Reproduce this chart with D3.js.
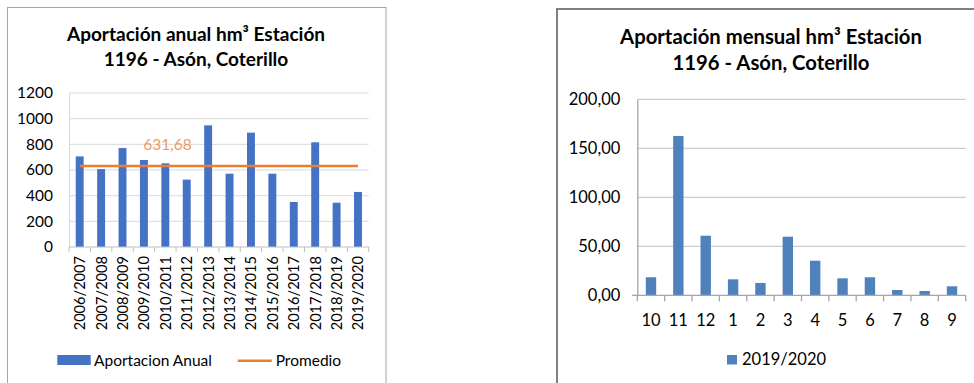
<!DOCTYPE html>
<html>
<head>
<meta charset="utf-8">
<script src="https://cdn.jsdelivr.net/npm/d3@7"></script>
<style>
  html, body { margin: 0; padding: 0; background: #fff; }
  svg { display: block; font-family: Lato, "Open Sans", sans-serif; }
</style>
</head>
<body>
<svg id="chart" width="974" height="383"></svg>
<script>
// Annual inflow per hydrological year (hm³)
const years = ["2006/2007","2007/2008","2008/2009","2009/2010","2010/2011","2011/2012","2012/2013",
               "2013/2014","2014/2015","2015/2016","2016/2017","2017/2018","2018/2019","2019/2020"];
const annualValues = [706, 607, 771, 678, 652, 525, 948, 571, 891, 571, 351, 816, 345, 429];
const annualMean = 631.68;
const annualTicks = [0, 200, 400, 600, 800, 1000, 1200];

// Monthly inflow for 2019/2020 (hm³), October to September
const months = ["10","11","12","1","2","3","4","5","6","7","8","9"];
const monthlyValues = [18.4, 162.6, 60.8, 16.3, 12.6, 59.8, 35.3, 17.3, 18.4, 5.4, 4.4, 9.2];
const monthlyTicks = [0, 50, 100, 150, 200];

const svg = d3.select("#chart");
const commaFmt = (d, digits) => d.toFixed(digits).replace(".", ",");

// ---------- Left panel: annual inflow ----------
(function () {
  const g = svg.append("g");
  g.append("rect").attr("x", 7.5).attr("y", 7.5).attr("width", 378.5).attr("height", 400)
    .attr("fill", "#fff").attr("stroke", "#A6A6A6").attr("stroke-width", 1);

  const title = g.append("text").attr("text-anchor", "middle")
    .attr("font-weight", "bold").attr("font-size", 19).attr("fill", "#000");
  title.append("tspan").attr("x", 196).attr("y", 40.5).text("Aportación anual hm³ Estación");
  title.append("tspan").attr("x", 196).attr("y", 66).text("1196 - Asón, Coterillo");

  const x = d3.scaleBand().domain(years).range([69, 368.7]).paddingInner(0.63).paddingOuter(0.315);
  const y = d3.scaleLinear().domain([0, 1200]).range([247, 93]);

  // horizontal gridlines
  g.append("g").selectAll("line").data(annualTicks.filter(d => d > 0)).join("line")
    .attr("x1", 69).attr("x2", 368.7).attr("y1", d => y(d)).attr("y2", d => y(d))
    .attr("stroke", "#D9D9D9").attr("stroke-width", 1);

  // y axis
  const yAxis = g.append("g").attr("transform", "translate(69,0)")
    .call(d3.axisLeft(y).tickValues(annualTicks).tickSize(0).tickPadding(16).tickFormat(d3.format("d")));
  yAxis.select(".domain").attr("stroke", "#D9D9D9");
  yAxis.selectAll("text").attr("font-size", 15.5).attr("fill", "#000").attr("font-family", "Lato");

  // bars
  g.append("g").selectAll("rect").data(years).join("rect")
    .attr("x", d => x(d)).attr("width", x.bandwidth())
    .attr("y", (d, i) => y(annualValues[i]))
    .attr("height", (d, i) => y(0) - y(annualValues[i]))
    .attr("fill", "#4472C4");

  // x axis with ticks between categories
  const step = x.step();
  const bounds = d3.range(years.length + 1).map(i => 69 + i * step);
  g.append("line").attr("x1", 69).attr("x2", 368.7).attr("y1", y(0)).attr("y2", y(0))
    .attr("stroke", "#BFBFBF").attr("stroke-width", 1);
  g.append("g").selectAll("line").data(bounds).join("line")
    .attr("x1", d => d).attr("x2", d => d).attr("y1", y(0)).attr("y2", y(0) + 5)
    .attr("stroke", "#BFBFBF");
  g.append("g").selectAll("text").data(years).join("text")
    .attr("transform", d => `translate(${x(d) + x.bandwidth() / 2 + 5.5},256) rotate(-90)`)
    .attr("text-anchor", "end").attr("font-size", 14.6).attr("fill", "#000")
    .text(d => d);

  // mean line and label
  const cx0 = x(years[0]) + x.bandwidth() / 2;
  const cx1 = x(years[years.length - 1]) + x.bandwidth() / 2;
  g.append("line").attr("x1", cx0).attr("x2", cx1).attr("y1", y(annualMean)).attr("y2", y(annualMean))
    .attr("stroke", "#ED7D31").attr("stroke-width", 2.5);
  g.append("text").attr("x", 167.5).attr("y", 149.5).attr("text-anchor", "middle")
    .attr("font-size", 15.5).attr("fill", "#F19A5E").text(commaFmt(annualMean, 2));

  // legend
  g.append("rect").attr("x", 57.3).attr("y", 355).attr("width", 33.4).attr("height", 10).attr("fill", "#4472C4");
  g.append("text").attr("x", 94).attr("y", 365.5).attr("font-size", 15.5).attr("fill", "#000").text("Aportacion Anual");
  g.append("line").attr("x1", 237.7).attr("x2", 271.7).attr("y1", 360.7).attr("y2", 360.7)
    .attr("stroke", "#ED7D31").attr("stroke-width", 2.5);
  g.append("text").attr("x", 275.7).attr("y", 365.5).attr("font-size", 15.5).attr("fill", "#000").text("Promedio");
})();

// ---------- Right panel: monthly inflow ----------
(function () {
  const g = svg.append("g");
  g.append("rect").attr("x", 557).attr("y", 9).attr("width", 430).attr("height", 400)
    .attr("fill", "#fff").attr("stroke", "#808080").attr("stroke-width", 2);

  const title = g.append("text").attr("text-anchor", "middle")
    .attr("font-weight", "bold").attr("font-size", 20.3).attr("fill", "#000");
  title.append("tspan").attr("x", 771).attr("y", 43.5).text("Aportación mensual hm³ Estación");
  title.append("tspan").attr("x", 771).attr("y", 70).text("1196 - Asón, Coterillo");

  const x = d3.scaleBand().domain(months).range([637.3, 965.7]).paddingInner(0.62).paddingOuter(0.31);
  const y = d3.scaleLinear().domain([0, 200]).range([295.3, 99.3]);

  g.append("g").selectAll("line").data(monthlyTicks.filter(d => d > 0)).join("line")
    .attr("x1", 637.3).attr("x2", 965.7).attr("y1", d => y(d)).attr("y2", d => y(d))
    .attr("stroke", "#CCCCCC").attr("stroke-width", 1.3);

  const yAxis = g.append("g").attr("transform", "translate(637.3,0)")
    .call(d3.axisLeft(y).tickValues(monthlyTicks).tickSize(0).tickPadding(17).tickFormat(d => commaFmt(d, 2)));
  yAxis.select(".domain").attr("stroke", "#A6A6A6").attr("stroke-width", 1.3);
  yAxis.selectAll("text").attr("font-size", 16.5).attr("fill", "#000").attr("font-family", "Lato");
  g.append("line").attr("x1", 632).attr("x2", 637.3).attr("y1", y(0)).attr("y2", y(0))
    .attr("stroke", "#A6A6A6").attr("stroke-width", 1.3);

  g.append("g").selectAll("rect").data(months).join("rect")
    .attr("x", d => x(d)).attr("width", x.bandwidth())
    .attr("y", (d, i) => y(monthlyValues[i]))
    .attr("height", (d, i) => y(0) - y(monthlyValues[i]))
    .attr("fill", "#4F81BD");

  const step = x.step();
  const bounds = d3.range(months.length + 1).map(i => 637.3 + i * step);
  g.append("line").attr("x1", 637.3).attr("x2", 965.7).attr("y1", y(0)).attr("y2", y(0))
    .attr("stroke", "#A6A6A6").attr("stroke-width", 1.3);
  g.append("g").selectAll("line").data(bounds).join("line")
    .attr("x1", d => d).attr("x2", d => d).attr("y1", y(0)).attr("y2", y(0) + 6)
    .attr("stroke", "#A6A6A6").attr("stroke-width", 1.3);
  g.append("g").selectAll("text").data(months).join("text")
    .attr("x", d => x(d) + x.bandwidth() / 2).attr("y", 326)
    .attr("text-anchor", "middle").attr("font-size", 16.5).attr("fill", "#000")
    .text(d => d);

  g.append("rect").attr("x", 727).attr("y", 355).attr("width", 10).attr("height", 9.5).attr("fill", "#4F81BD");
  g.append("text").attr("x", 742).attr("y", 365).attr("font-size", 16.5).attr("fill", "#000").text("2019/2020");
})();
</script>
</body>
</html>
